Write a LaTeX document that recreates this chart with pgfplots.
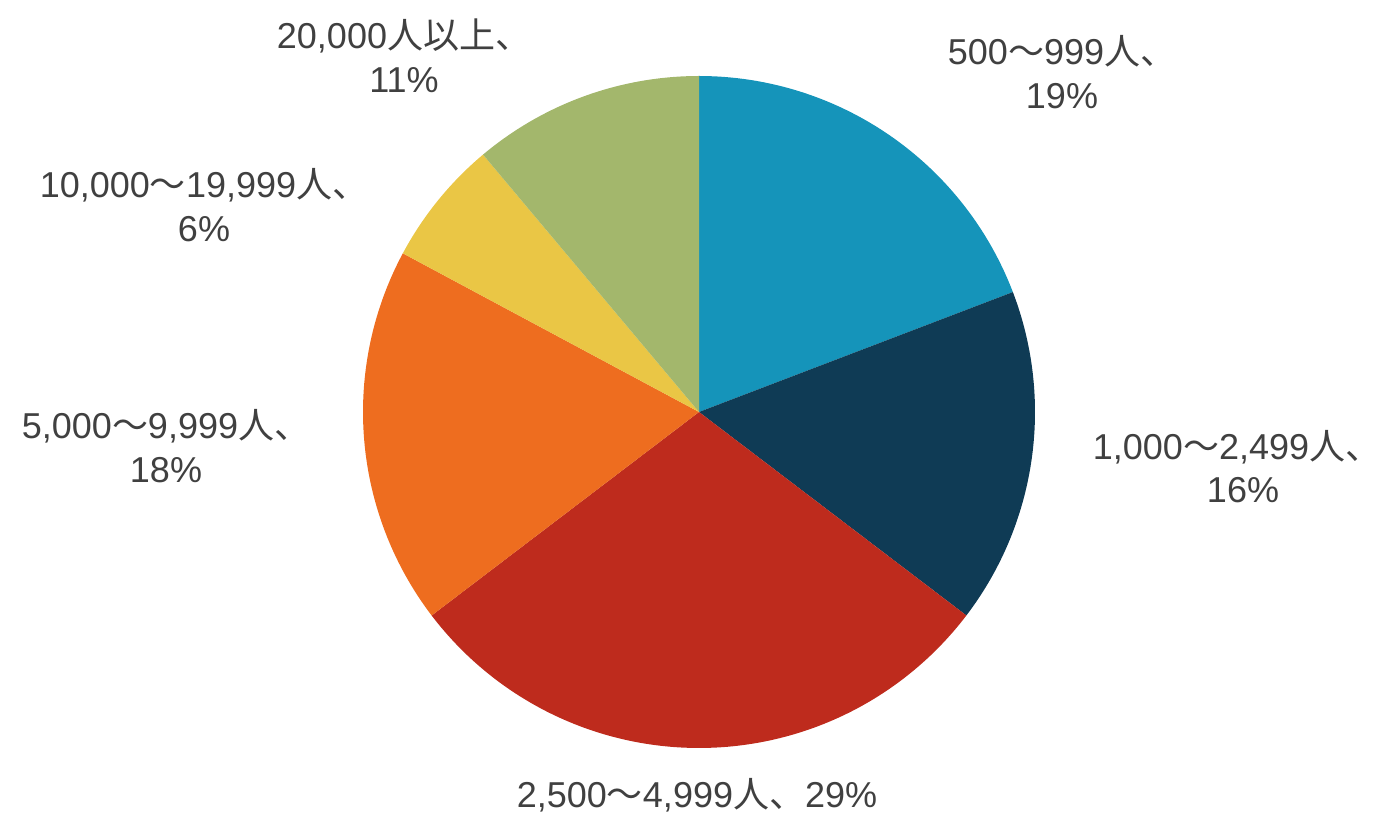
\documentclass[border=0pt]{standalone}
\usepackage{pgfplots}
\pgfplotsset{compat=1.18}
\usepackage{pgfplotstable}
\usepackage{fontspec}
\setmainfont{Liberation Sans}
\newfontfamily\cjk{Noto Sans CJK JP}

\definecolor{slice0}{HTML}{1594BA}
\definecolor{slice1}{HTML}{0F3B55}
\definecolor{slice2}{HTML}{BE2B1D}
\definecolor{slice3}{HTML}{EE6D1F}
\definecolor{slice4}{HTML}{EAC645}
\definecolor{slice5}{HTML}{A3B76C}
\definecolor{labelgray}{HTML}{404040}

\tikzset{lab/.style={text=labelgray, align=center, inner sep=0pt,
    font=\fontsize{18}{22}\selectfont}}

% share of respondents per size class (percent)
\pgfplotstableread{
group value
a 19
b 16
c 29
d 18
e 6
f 11
}\sizes

\begin{document}
\begin{tikzpicture}
% total of all shares, used to close the circle
\gdef\total{0}
\pgfplotsinvokeforeach{0,...,5}{%
  \pgfplotstablegetelem{#1}{value}\of\sizes
  \pgfmathsetmacro\t{\total+\pgfplotsretval}%
  \xdef\total{\t}%
}
\gdef\cum{0}
\begin{axis}[
  scale only axis, width=688.5pt, height=406.5pt,
  xmin=0, xmax=1377, ymin=0, ymax=813,
  hide axis, clip=false, anchor=south west, at={(0,0)},
]
\pgfplotsinvokeforeach{0,...,5}{%
  \pgfplotstablegetelem{#1}{value}\of\sizes
  \pgfmathsetmacro\astart{90-(\cum/\total)*360}%
  \pgfmathsetmacro\c{\cum+\pgfplotsretval}%
  \pgfmathsetmacro\aend{90-(\c/\total)*360}%
  \xdef\cum{\c}%
  \addplot[fill=slice#1, draw=none, domain=\aend:\astart, samples=120]
    ({699+336*cos(x)},{401+336*sin(x)}) -- (699,401) -- cycle;
}
\node[lab] at (axis cs:1062,741) {500{\cjk ～}999{\cjk 人、}\\19\%};
% right-hand label set as two lines so it stays inside the page
\node[lab] at (axis cs:1228,366) {1,000{\cjk ～}2,499{\cjk 人\makebox[0.5em][l]{、}}};
\node[lab] at (axis cs:1243,323) {16\%};
\node[lab] at (axis cs:697,18) {2,500{\cjk ～}4,999{\cjk 人、}29\%};
\node[lab] at (axis cs:166,367) {5,000{\cjk ～}9,999{\cjk 人、}\\18\%};
\node[lab] at (axis cs:204,608) {10,000{\cjk ～}19,999{\cjk 人、}\\6\%};
\node[lab] at (axis cs:404,757) {20,000{\cjk 人以上、}\\11\%};
\end{axis}
% page is exactly the plotting canvas
\pgfresetboundingbox
\useasboundingbox (0,0) rectangle (688.5pt,406.5pt);
\end{tikzpicture}
\end{document}
